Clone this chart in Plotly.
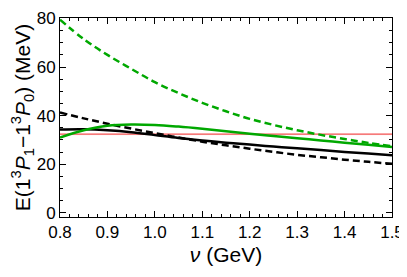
import plotly.graph_objects as go

nu = [0.80, 0.85, 0.90, 0.95, 1.00, 1.05, 1.10, 1.15, 1.20, 1.25, 1.30, 1.35, 1.40, 1.45, 1.50]
green_dashed = [79.5, 71.5, 65.0, 59.3, 53.8, 49.3, 45.3, 41.8, 38.7, 36.2, 34.0, 32.1, 30.4, 28.8, 27.4]
green_solid = [31.0, 34.0, 35.9, 36.4, 36.2, 35.5, 34.6, 33.6, 32.6, 31.6, 30.7, 29.8, 28.9, 28.0, 27.1]
black_dashed = [41.3, 38.9, 36.7, 34.7, 32.8, 31.0, 29.3, 27.8, 26.4, 25.1, 23.9, 22.9, 21.9, 21.0, 20.2]
black_solid = [34.3, 34.4, 34.0, 33.2, 32.0, 30.8, 29.8, 28.9, 28.1, 27.3, 26.6, 25.9, 25.1, 24.4, 23.7]
exp_value = 32.4
exp_error = 0.5
x_range = [0.8, 1.5]

GREEN = "rgb(0,168,0)"
FONT = "Liberation Sans"
fig = go.Figure()

# experimental band
fig.add_trace(go.Scatter(x=x_range + x_range[::-1],
                         y=[exp_value + exp_error] * 2 + [exp_value - exp_error] * 2,
                         fill="toself", fillcolor="rgba(255,0,0,0.10)", line=dict(width=0),
                         mode="lines", hoverinfo="skip", showlegend=False))
fig.add_trace(go.Scatter(x=x_range, y=[exp_value] * 2, mode="lines",
                         line=dict(color="rgb(240,60,60)", width=1), showlegend=False))

for ys, color, dash in [(black_dashed, "black", "7px,4px"), (black_solid, "black", "solid"),
                        (green_dashed, GREEN, "7px,4px"), (green_solid, GREEN, "solid")]:
    fig.add_trace(go.Scatter(x=nu, y=ys, mode="lines", line=dict(color=color, width=2.5, dash=dash, shape="spline"),
                             showlegend=False))

axis_common = dict(showgrid=False, zeroline=False, showline=True, linecolor="black", linewidth=1,
                   mirror="ticks", ticks="inside", tickcolor="black", ticklen=6, automargin=False,
                   ticklabeloverflow="allow",
                   tickfont=dict(family=FONT, size=17, color="black"))

fig.update_xaxes(range=x_range, dtick=0.1, tick0=0.8, tickformat=".1f",
                 minor=dict(dtick=0.02, ticks="inside", ticklen=3, tickcolor="black"),
                 title=dict(text="<i>ν</i> (GeV)", font=dict(family=FONT, size=21, color="black"),
                            standoff=5),
                 **axis_common)
fig.update_yaxes(range=[-1.7, 80.2], dtick=20, tick0=0,
                 minor=dict(dtick=5, ticks="inside", ticklen=3, tickcolor="black"),
                 title=dict(text="E(1<sup>3</sup><i>P</i><sub>1</sub>−1<sup>3</sup><i>P</i><sub>0</sub>) (MeV)",
                            font=dict(family=FONT, size=21, color="black"), standoff=3),
                 **axis_common)

# page body has an 8px margin; compensate so the plot frame lands where the reference has it
fig.update_layout(width=399, height=269, margin=dict(l=52, r=15, t=10, b=60),
                  plot_bgcolor="white", paper_bgcolor="white")

fig.write_html("out.html")
